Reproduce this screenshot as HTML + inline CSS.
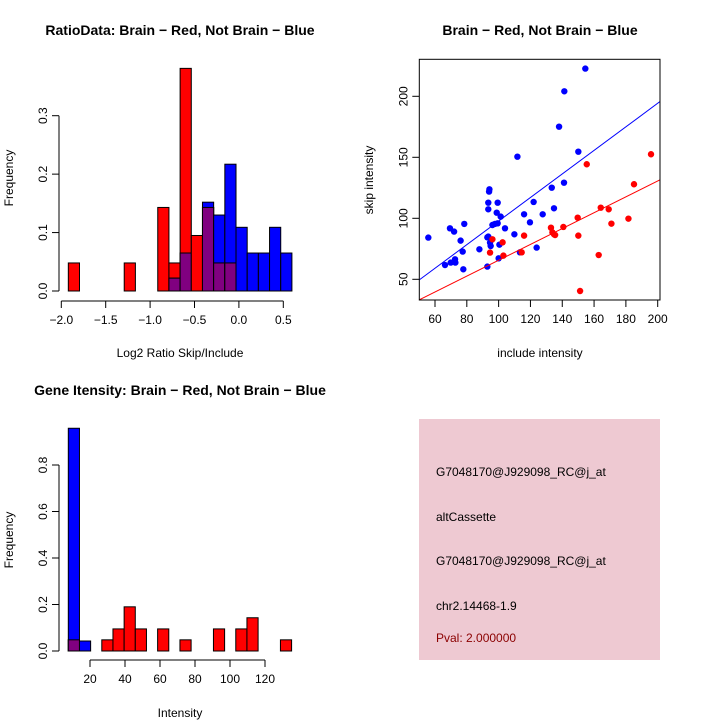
<!DOCTYPE html>
<html><head><meta charset="utf-8"><style>
html,body{margin:0;padding:0;background:#fff;}
svg{display:block;font-family:"Liberation Sans",sans-serif;}
</style></head><body>
<svg id="root" width="720" height="720" viewBox="0 0 720 720">
<rect width="720" height="720" fill="#fff"/>
<g id="p1"></g>
<g id="p2"></g>
<g id="p3"></g>
<g>
<rect x="419" y="419" width="241" height="241" fill="#eec9d2"/>
<text x="436" y="476" font-size="12">G7048170@J929098_RC@j_at</text>
<text x="436" y="521" font-size="12">altCassette</text>
<text x="436" y="565" font-size="12">G7048170@J929098_RC@j_at</text>
<text x="436" y="610" font-size="12">chr2.14468-1.9</text>
<text x="436" y="642" font-size="12" fill="#8b0000">Pval: 2.000000</text>
</g>
</svg>
<script>
// ---- Ratio histogram data
const ratioBinStart = -1.921;
const ratioBinWidth = 0.1259;
const ratioRed  = [0.048,0,0,0,0,0.048,0,0,0.143,0.048,0.381,0.095,0.143,0.048,0.048,0,0,0,0,0];
const ratioBlue = [0,0,0,0,0,0,0,0,0,0.022,0.065,0,0.152,0.13,0.217,0.109,0.065,0.065,0.109,0.065];
const ratioXTicks = [-2.0,-1.5,-1.0,-0.5,0.0,0.5];
const ratioXLabels = ["\u22122.0","\u22121.5","\u22121.0","\u22120.5","0.0","0.5"];
const ratioYTicks = [0,0.1,0.2,0.3];
const ratioYLabels = ["0.0","0.1","0.2","0.3"];
// ---- Scatter data
const blueX = [55.8,66.3,69.4,69.9,72.0,72.6,72.8,76.1,77.4,77.8,78.4,87.9,92.9,92.9,93.5,93.5,94.0,94.2,93.5,94.6,95.0,96.1,97.7,98.8,99.4,99.4,100.5,100.0,101.3,104.0,109.9,111.8,113.4,116.0,119.7,122.0,123.9,127.7,133.4,134.8,138.0,141.1,141.3,150.1,154.5];
const blueY = [84.2,61.7,91.8,63.7,89.1,66.4,63.7,81.7,72.7,58.2,95.4,74.6,84.4,60.4,107.4,112.8,121.9,123.8,85.0,80.1,77.3,94.5,95.4,104.6,112.8,95.9,78.4,67.2,101.4,91.8,86.9,150.5,72.1,103.3,96.7,113.4,76.0,103.3,125.1,108.2,175.1,129.2,204.1,154.6,222.7];
const redX = [94.6,96.1,102.5,103.0,114.5,116.0,132.9,133.8,134.8,135.5,140.7,149.7,150.1,151.2,155.4,162.9,164.2,169.2,170.9,181.6,185.1,195.8];
const redY = [71.9,82.8,80.3,69.4,72.1,85.8,92.3,88.5,86.9,86.3,92.9,100.5,85.8,40.4,144.3,69.9,108.7,107.4,95.6,99.7,127.9,152.5];
const blueFit = [1.1, 0.966];   // intercept, slope
const redFit = [0.6, 0.65];
const scatXTicks = [60,80,100,120,140,160,180,200];
const scatYTicks = [50,100,150,200];
// ---- Gene intensity histogram data
const geneBinStart = 7.6;
const geneBinWidth = 6.38;
const geneRed  = [0.048,0,0,0.048,0.095,0.19,0.095,0,0.095,0,0.048,0,0,0.095,0,0.095,0.143,0,0,0.048];
const geneBlue = [0.958,0.043,0,0,0,0,0,0,0,0,0,0,0,0,0,0,0,0,0,0];
const geneXTicks = [20,40,60,80,100,120];
const geneYTicks = [0,0.2,0.4,0.6,0.8];
const geneYLabels = ["0.0","0.2","0.4","0.6","0.8"];

const NS = "http://www.w3.org/2000/svg";
function mk(parent, tag, attrs, txt){
  const e = document.createElementNS(NS, tag);
  for (const k in attrs) e.setAttribute(k, attrs[k]);
  if (txt !== undefined) e.textContent = txt;
  parent.appendChild(e);
  return e;
}
function lin(d0,d1,r0,r1){ return v => r0 + (v-d0)*(r1-r0)/(d1-d0); }

function histogram(g, o){
  const sx = o.sx, sy = o.sy;
  const n = o.red.length;
  for (let i=0;i<n;i++){
    const x0 = sx(o.start + i*o.w), x1 = sx(o.start + (i+1)*o.w);
    const r = o.red[i], b = o.blue[i];
    if (r>0){
      const e = mk(g,'rect',{x:x0,y:sy(r),width:x1-x0,height:sy(0)-sy(r),fill:'#ff0000',stroke:'#000','stroke-width':1});
      
      
    }
    if (b>0){
      const e = mk(g,'rect',{x:x0,y:sy(b),width:x1-x0,height:sy(0)-sy(b),fill:'#0000ff',stroke:'#000','stroke-width':1});
      
      
    }
    const m = Math.min(r,b);
    if (m>0){
      const e = mk(g,'rect',{x:x0,y:sy(m),width:x1-x0,height:sy(0)-sy(m),fill:'#800080',stroke:'#000','stroke-width':1});
      
      
    }
  }
  // y axis
  const ya = mk(g,'g',{});
  
  
  mk(ya,'line',{x1:o.yAxisX,x2:o.yAxisX,y1:sy(o.yt[0]),y2:sy(o.yt[o.yt.length-1]),stroke:'#000'});
  o.yt.forEach((t,i)=>{
    mk(ya,'line',{x1:o.yAxisX-7,x2:o.yAxisX,y1:sy(t),y2:sy(t),stroke:'#000'});
    const tx = mk(ya,'text',{x:0,y:0,'font-size':12,'text-anchor':'middle',transform:`translate(${o.yAxisX-12},${sy(t)}) rotate(-90)`},o.yl[i]);
    
    
  });
  const xa = mk(g,'g',{});
  
  
  mk(xa,'line',{x1:sx(o.xt[0]),x2:sx(o.xt[o.xt.length-1]),y1:o.xAxisY,y2:o.xAxisY,stroke:'#000'});
  o.xt.forEach((t,i)=>{
    mk(xa,'line',{x1:sx(t),x2:sx(t),y1:o.xAxisY,y2:o.xAxisY+7,stroke:'#000'});
    const tx = mk(xa,'text',{x:sx(t),y:o.xAxisY+23,'font-size':12,'text-anchor':'middle'},o.xl[i]);
    
    
  });
}

// Panel 1
{
  const g = document.getElementById('p1');
  const sx = lin(-2.0,0.5,61.3,283.3), sy = lin(0,0.3,291,115.7);
  histogram(g,{sx,sy,start:ratioBinStart,w:ratioBinWidth,red:ratioRed,blue:ratioBlue,
    yt:ratioYTicks,yl:ratioYLabels,xt:ratioXTicks,xl:ratioXLabels,yAxisX:59,xAxisY:301});
  const t = mk(g,'text',{x:180,y:35,'font-size':14,'font-weight':'bold','text-anchor':'middle'},'RatioData: Brain \u2212 Red, Not Brain \u2212 Blue');
  
  
  const xl = mk(g,'text',{x:180,y:357,'font-size':12,'text-anchor':'middle'},'Log2 Ratio Skip/Include');
  
  
  const yl = mk(g,'text',{x:0,y:0,'font-size':12,'text-anchor':'middle',transform:'translate(13,178) rotate(-90)'},'Frequency');
  
  
}
// Panel 3
{
  const g = document.getElementById('p3');
  const sx = lin(20,120,90,265), sy = lin(0,0.8,651,465);
  histogram(g,{sx,sy,start:geneBinStart,w:geneBinWidth,red:geneRed,blue:geneBlue,
    yt:geneYTicks,yl:geneYLabels,xt:geneXTicks,xl:geneXTicks.map(String),yAxisX:59,xAxisY:660});
  const t = mk(g,'text',{x:180,y:395,'font-size':14,'font-weight':'bold','text-anchor':'middle'},'Gene Itensity: Brain \u2212 Red, Not Brain \u2212 Blue');
  
  
  const xl = mk(g,'text',{x:180,y:717,'font-size':12,'text-anchor':'middle'},'Intensity');
  
  
  const yl = mk(g,'text',{x:0,y:0,'font-size':12,'text-anchor':'middle',transform:'translate(13,540) rotate(-90)'},'Frequency');
  
  
}
// Panel 2
{
  const g = document.getElementById('p2');
  const sx = lin(60,200,435,657.7), sy = lin(50,200,279.3,96.3);
  const X0=419.3,X1=660,Y0=59.3,Y1=300;
  const dx0 = 60+(X0-435)/( (657.7-435)/140 ), dx1 = 60+(X1-435)/((657.7-435)/140);
  const clip = mk(g,'clipPath',{id:'sc'}); mk(clip,'rect',{x:X0,y:Y0,width:X1-X0,height:Y1-Y0});
  const pts = mk(g,'g',{'clip-path':'url(#sc)'});
  blueX.forEach((v,i)=>{
    const c = mk(pts,'circle',{cx:sx(v),cy:sy(blueY[i]),r:3.2,fill:'#0000ff'});
    
    
  });
  redX.forEach((v,i)=>{
    const c = mk(pts,'circle',{cx:sx(v),cy:sy(redY[i]),r:3.2,fill:'#ff0000'});
    
    
  });
  const bl = mk(pts,'line',{x1:sx(dx0),y1:sy(blueFit[0]+blueFit[1]*dx0),x2:sx(dx1),y2:sy(blueFit[0]+blueFit[1]*dx1),stroke:'#0000ff','stroke-width':1});
  
  
  const rl = mk(pts,'line',{x1:sx(dx0),y1:sy(redFit[0]+redFit[1]*dx0),x2:sx(dx1),y2:sy(redFit[0]+redFit[1]*dx1),stroke:'#ff0000','stroke-width':1});
  
  
  const box = mk(g,'rect',{x:X0,y:Y0,width:X1-X0,height:Y1-Y0,fill:'none',stroke:'#000'});
  
  
  scatXTicks.forEach(t=>{
    mk(g,'line',{x1:sx(t),x2:sx(t),y1:Y1,y2:Y1+7,stroke:'#000'});
    const tx = mk(g,'text',{x:sx(t),y:Y1+23,'font-size':12,'text-anchor':'middle'},String(t));
    
    
  });
  scatYTicks.forEach(t=>{
    mk(g,'line',{x1:X0-7,x2:X0,y1:sy(t),y2:sy(t),stroke:'#000'});
    const tx = mk(g,'text',{x:0,y:0,'font-size':12,'text-anchor':'middle',transform:`translate(${X0-12},${sy(t)}) rotate(-90)`},String(t));
    
    
  });
  const t = mk(g,'text',{x:540,y:35,'font-size':14,'font-weight':'bold','text-anchor':'middle'},'Brain \u2212 Red, Not Brain \u2212 Blue');
  
  
  const xl = mk(g,'text',{x:540,y:357,'font-size':12,'text-anchor':'middle'},'include intensity');
  
  
  const yl = mk(g,'text',{x:0,y:0,'font-size':12,'text-anchor':'middle',transform:'translate(373,180) rotate(-90)'},'skip intensity');
  
  
}
</script>
</body></html>
